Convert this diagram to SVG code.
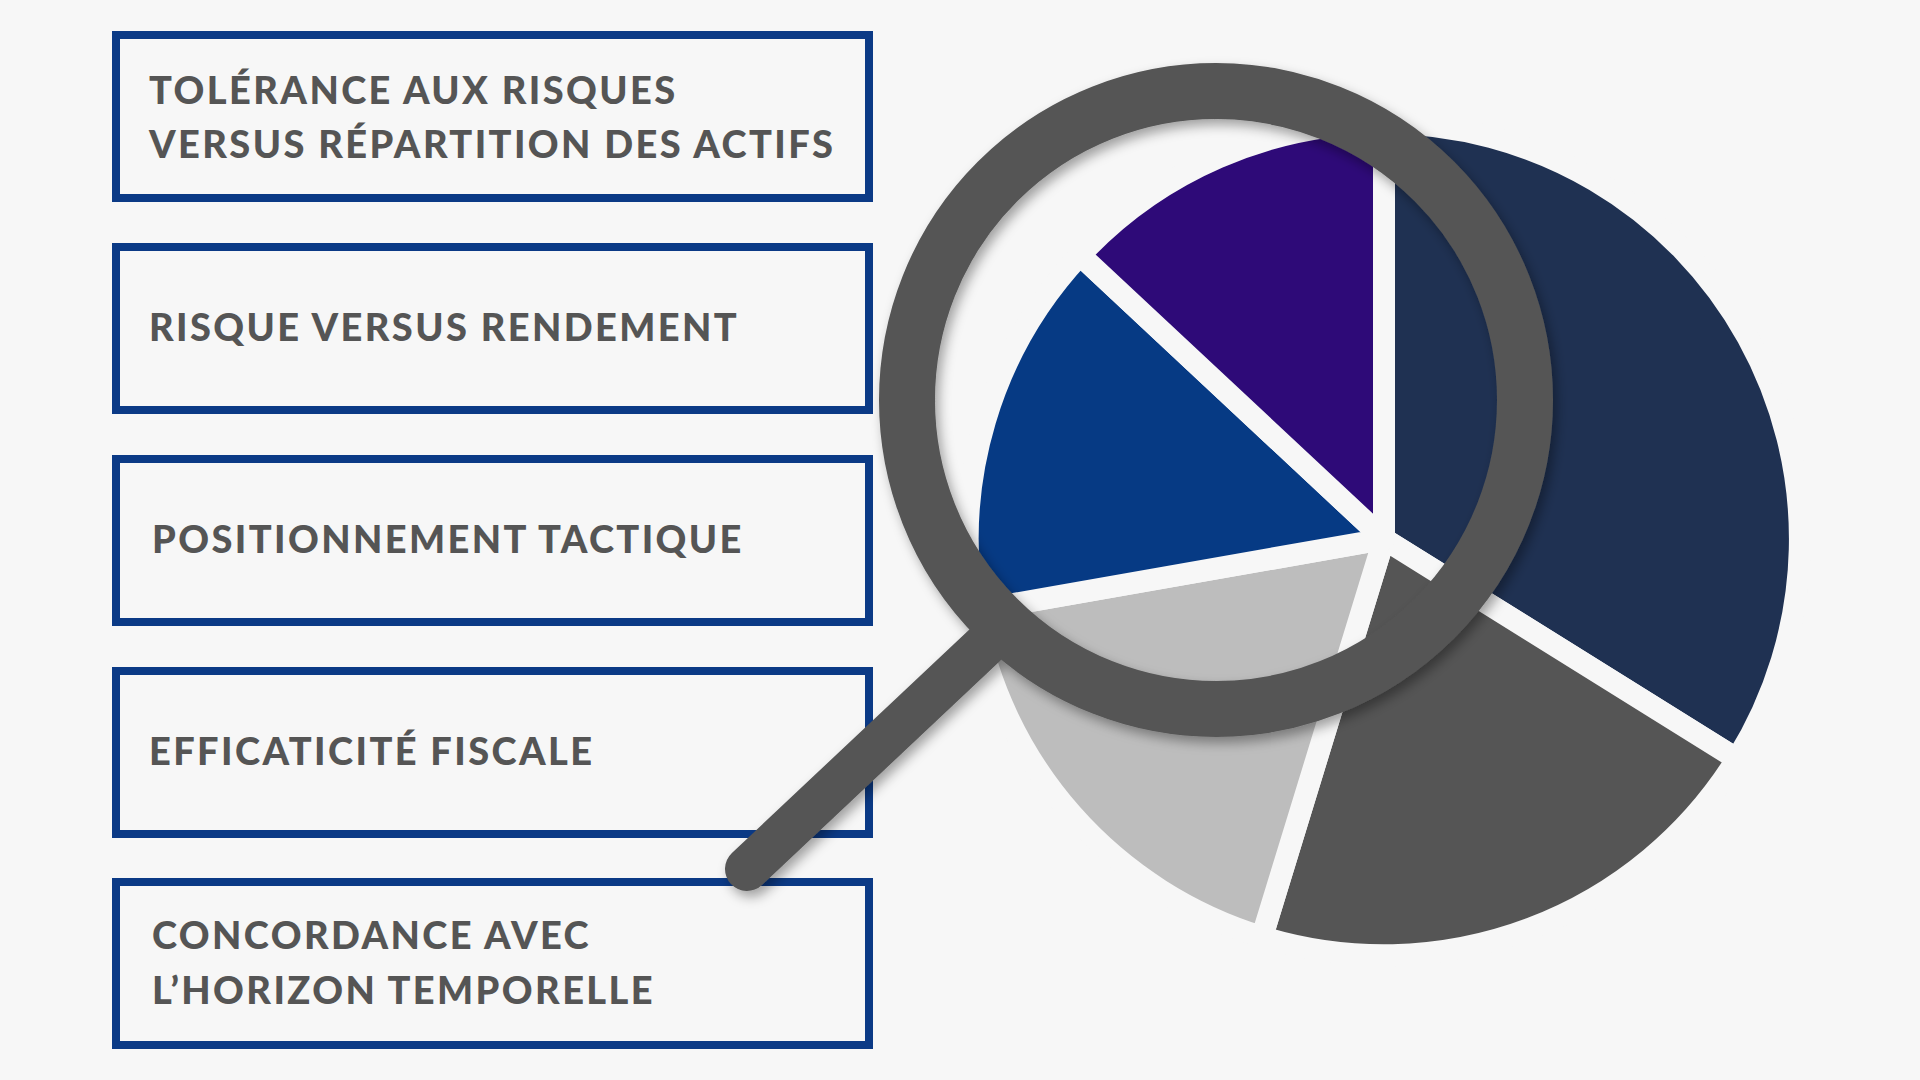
<svg xmlns="http://www.w3.org/2000/svg" width="1920" height="1080" viewBox="0 0 1920 1080">
<defs>
<style>
.box{fill:#f7f7f7;stroke:#0b3a86;stroke-width:8}
.t{font-family:"Lato","Liberation Sans",sans-serif;font-weight:900;font-size:38px;fill:#555;letter-spacing:2.4px}
.sl{stroke:#f7f7f7;stroke-width:22;stroke-linejoin:round}
</style>
<filter id="sh" x="-20%" y="-20%" width="140%" height="140%"><feDropShadow dx="4" dy="6" stdDeviation="6" flood-opacity="0.35"/></filter>
</defs>
<rect width="1920" height="1080" fill="#f7f7f7"/>
<g id="n1"><rect class="box" x="116" y="35" width="753" height="163"/><text class="t" x="149" y="104">TOLÉRANCE AUX RISQUES</text><text class="t" x="149" y="158">VERSUS RÉPARTITION DES ACTIFS</text></g>
<g id="n2"><rect class="box" x="116" y="247" width="753" height="163"/><text class="t" x="149" y="341">RISQUE VERSUS RENDEMENT</text></g>
<g id="n3"><rect class="box" x="116" y="459" width="753" height="163"/><text class="t" x="152" y="553">POSITIONNEMENT TACTIQUE</text></g>
<g id="n4"><rect class="box" x="116" y="671" width="753" height="163"/><text class="t" x="149" y="765">EFFICATICITÉ FISCALE</text></g>
<g id="n5"><rect class="box" x="116" y="882" width="753" height="163"/><text class="t" x="152" y="949">CONCORDANCE AVEC</text><text class="t" x="152" y="1004">L’HORIZON TEMPORELLE</text></g>
<g id="pie">
<path class="sl" fill="#1f3152" d="M1384 539 L1384 123 A416 416 0 0 1 1737 759 Z"/>
<path class="sl" fill="#555" d="M1384 539 L1737 759 A416 416 0 0 1 1262 937 Z"/>
<path class="sl" fill="#bdbdbd" d="M1384 539 L1262 937 A416 416 0 0 1 974 611 Z"/>
<path class="sl" fill="#063a84" d="M1384 539 L974 611 A416 416 0 0 1 1080 255 Z"/>
<path class="sl" fill="#2e0a78" d="M1384 539 L1080 255 A416 416 0 0 1 1384 123 Z"/>
</g>
<g id="magnifier" filter="url(#sh)">
<line x1="985" y1="645" x2="747" y2="869" stroke="#555" stroke-width="44" stroke-linecap="round"/>
<circle cx="1216" cy="400" r="309" fill="none" stroke="#555" stroke-width="56"/>
</g>
</svg>
